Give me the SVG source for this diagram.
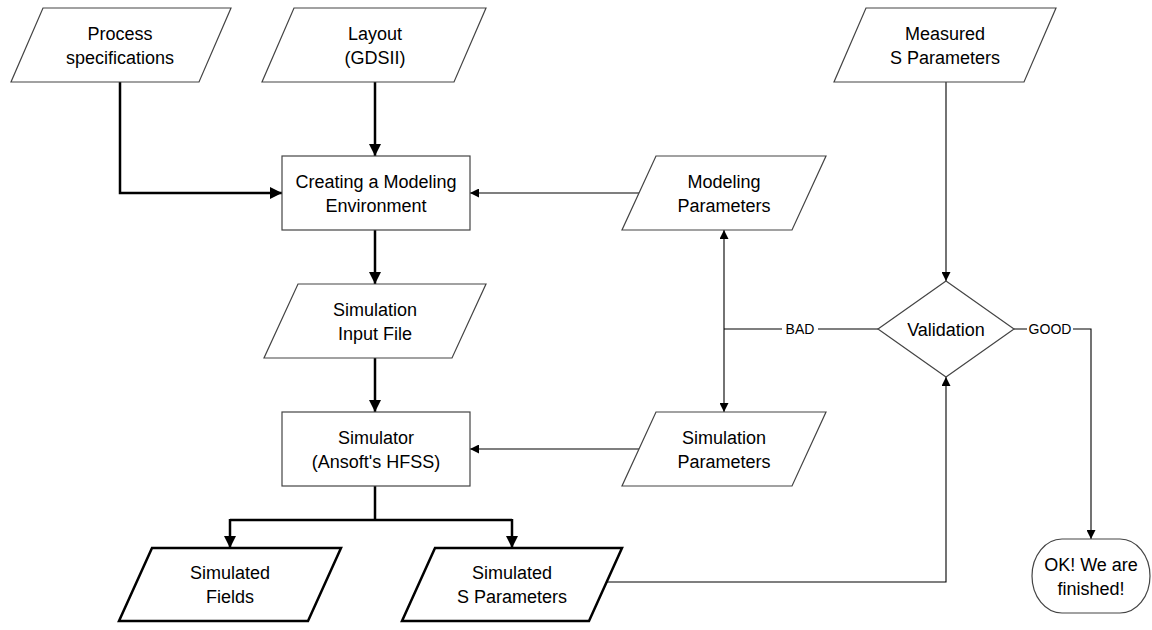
<svg xmlns="http://www.w3.org/2000/svg" width="1152" height="630" viewBox="0 0 1152 630">
<style>
.s{fill:#fff;stroke:#444;stroke-width:1.2}
.b{fill:#fff;stroke:#000;stroke-width:2.5}
.t{font-family:"Liberation Sans",Arial,sans-serif;font-size:18px;fill:#000;text-anchor:middle}
.l{font-family:"Liberation Sans",Arial,sans-serif;font-size:14px;fill:#000;text-anchor:middle}
.thick{fill:none;stroke:#000;stroke-width:2.5}
.thin{fill:none;stroke:#000;stroke-width:1.1}
</style>
<defs>
<marker id="ab" viewBox="0 0 10 10" refX="10" refY="5" markerWidth="5" markerHeight="5" markerUnits="strokeWidth" orient="auto"><path d="M0,0L10,5L0,10z" fill="#000"/></marker>
<marker id="at" viewBox="0 0 10 10" refX="10" refY="5" markerWidth="11" markerHeight="9" markerUnits="userSpaceOnUse" orient="auto-start-reverse"><path d="M0,0L10,5L0,10z" fill="#000"/></marker>
</defs>
<g id="connectors">
<path class="thick" d="M120,82V193H282" marker-end="url(#ab)"/>
<path class="thick" d="M375,82V156" marker-end="url(#ab)"/>
<path class="thick" d="M375,230V284" marker-end="url(#ab)"/>
<path class="thick" d="M375,358V412" marker-end="url(#ab)"/>
<path class="thick" d="M375,486V520"/>
<path class="thick" d="M230,520H512"/>
<path class="thick" d="M230,519V548" marker-end="url(#ab)"/>
<path class="thick" d="M512,519V548" marker-end="url(#ab)"/>
<path class="thin" d="M639,193H470" marker-end="url(#at)"/>
<path class="thin" d="M639,449H470" marker-end="url(#at)"/>
<path class="thin" d="M724,230V412" marker-start="url(#at)" marker-end="url(#at)"/>
<path class="thin" d="M724,329H878"/>
<path class="thin" d="M946,82V281" marker-end="url(#at)"/>
<path class="thin" d="M605,582H946V377" marker-end="url(#at)"/>
<path class="thin" d="M1014,329H1091V539" marker-end="url(#at)"/>
<rect x="782" y="320" width="36" height="18" fill="#fff"/>
<text class="l" x="800" y="334">BAD</text>
<rect x="1027" y="320" width="46" height="18" fill="#fff"/>
<text class="l" x="1050" y="334">GOOD</text>
</g>
<g id="process-spec">
<path class="s" d="M43,8H231L199,82H11Z"/>
<text class="t" x="120" y="39.5">Process</text>
<text class="t" x="120" y="63.5">specifications</text>
</g>
<g id="layout">
<path class="s" d="M294,8H486L454,82H262Z"/>
<text class="t" x="375" y="39.5">Layout</text>
<text class="t" x="375" y="63.5">(GDSII)</text>
</g>
<g id="measured">
<path class="s" d="M866,8H1056L1024,82H834Z"/>
<text class="t" x="945" y="39.5">Measured</text>
<text class="t" x="945" y="63.5">S Parameters</text>
</g>
<g id="creating">
<rect class="s" x="282" y="156" width="188" height="74"/>
<text class="t" x="376" y="187.5">Creating a Modeling</text>
<text class="t" x="376" y="211.5">Environment</text>
</g>
<g id="modeling-params">
<path class="s" d="M656,156H826L792,230H622Z"/>
<text class="t" x="724" y="187.5">Modeling</text>
<text class="t" x="724" y="211.5">Parameters</text>
</g>
<g id="sim-input">
<path class="s" d="M298,284H486L452,358H264Z"/>
<text class="t" x="375" y="315.5">Simulation</text>
<text class="t" x="375" y="339.5">Input File</text>
</g>
<g id="validation">
<path class="s" d="M878,329L946,281L1014,329L946,377Z"/>
<text class="t" x="946" y="335.5">Validation</text>
</g>
<g id="simulator">
<rect class="s" x="282" y="412" width="188" height="74"/>
<text class="t" x="376" y="443.5">Simulator</text>
<text class="t" x="376" y="467.5">(Ansoft's HFSS)</text>
</g>
<g id="sim-params">
<path class="s" d="M656,412H826L792,486H622Z"/>
<text class="t" x="724" y="443.5">Simulation</text>
<text class="t" x="724" y="467.5">Parameters</text>
</g>
<g id="sim-fields">
<path class="b" d="M152,548H341L308,621H119Z"/>
<text class="t" x="230" y="579">Simulated</text>
<text class="t" x="230" y="603">Fields</text>
</g>
<g id="sim-sparams">
<path class="b" d="M435,548H622L589,621H402Z"/>
<text class="t" x="512" y="579">Simulated</text>
<text class="t" x="512" y="603">S Parameters</text>
</g>
<g id="finished">
<rect class="s" x="1032" y="539" width="118" height="74" rx="30" ry="37"/>
<text class="t" x="1091" y="570.5">OK! We are</text>
<text class="t" x="1091" y="594.5">finished!</text>
</g>
</svg>
